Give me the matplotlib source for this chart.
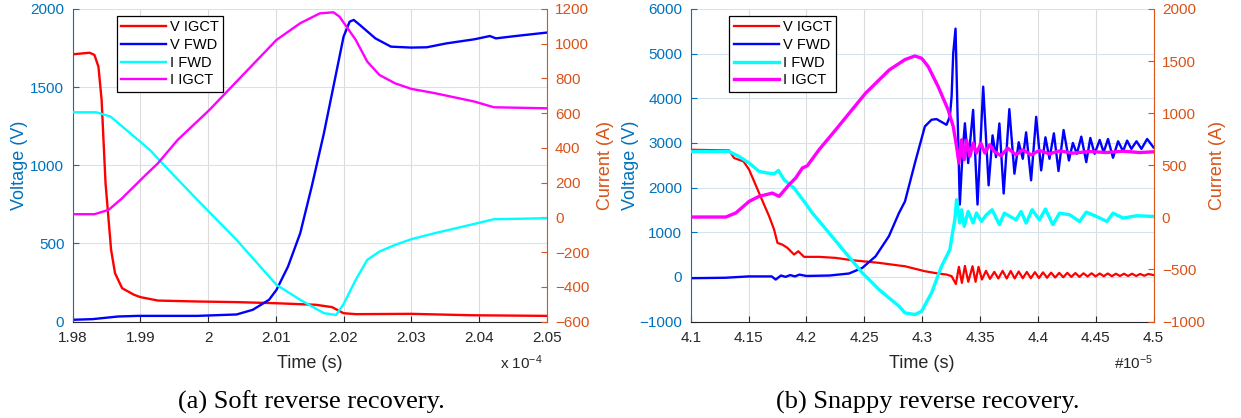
import matplotlib
matplotlib.use("Agg")
import matplotlib.pyplot as plt
from matplotlib.ticker import FuncFormatter

plt.rcParams['font.family'] = ['Liberation Sans', 'DejaVu Sans']
plt.rcParams['mathtext.fontset'] = 'custom'
plt.rcParams['mathtext.rm'] = 'Liberation Sans'
plt.rcParams['mathtext.it'] = 'Liberation Sans:italic'

# ---- (a) soft recovery, time in units of 1e-4 s ----
t_vigct_a = [1.980, 1.9825, 1.98321, 1.9838, 1.98427, 1.9845, 1.98485, 1.98526, 1.98567, 1.98625,
             1.9873, 1.98906, 1.990, 1.9926, 1.9984, 2.0042, 2.010, 2.0159, 2.0183, 2.020,
             2.0218, 2.030, 2.0389, 2.050]
v_igct_a = [1710, 1720, 1706, 1631, 1418, 1205, 885, 672, 459, 309,
            213, 171, 156, 134, 128, 124, 117, 107, 92, 53,
            47, 49, 40, 36]

t_vfwd_a = [1.980, 1.9829, 1.9867, 1.9896, 1.9984, 2.0042, 2.0066, 2.009, 2.0101, 2.0118,
            2.0136, 2.0153, 2.0171, 2.0189, 2.020, 2.0209, 2.0215, 2.0224, 2.0247, 2.027,
            2.030, 2.0323, 2.0352, 2.0393, 2.0416, 2.0425, 2.0454, 2.050]
v_fwd_a = [11, 15, 32, 36, 36, 45, 75, 139, 203, 352,
           565, 864, 1205, 1588, 1823, 1919, 1930, 1898, 1812, 1759,
           1753, 1755, 1780, 1806, 1827, 1812, 1827, 1849]

t_ifwd_a = [1.980, 1.9835, 1.9856, 1.9879, 1.9914, 1.9937, 1.9984, 2.0042, 2.0101, 2.0136,
            2.0171, 2.0189, 2.020, 2.0218, 2.0235, 2.0253, 2.0276, 2.030, 2.0335, 2.0393,
            2.0422, 2.050]
i_fwd_a = [605, 605, 580, 504, 388, 292, 101, -130, -389, -475,
           -552, -562, -500, -360, -245, -197, -159, -126, -91, -38,
           -11, -5]

t_iigct_a = [1.980, 1.9832, 1.9853, 1.9873, 1.9908, 1.9926, 1.9955, 2.0002, 2.0042, 2.0101,
             2.0136, 2.0165, 2.0185, 2.0194, 2.0218, 2.0235, 2.0253, 2.0276, 2.030, 2.0335,
             2.0393, 2.0422, 2.050]
i_igct_a = [18, 18, 43, 110, 245, 312, 446, 619, 782, 1022,
            1118, 1175, 1181, 1156, 1022, 897, 820, 772, 740, 715,
            667, 634, 628]

# ---- (b) snappy recovery, time in units of 1e-5 s ----
t_vigct_b = [4.100, 4.1332, 4.1375, 4.1457, 4.1505, 4.1591, 4.1678, 4.1721, 4.175, 4.1792,
             4.1836, 4.1893, 4.193, 4.198, 4.211, 4.2253, 4.2397, 4.2627, 4.280, 4.2852,
             4.3024, 4.3139, 4.3211, 4.3255, 4.3292, 4.3318, 4.3344, 4.337, 4.3399, 4.3436,
             4.3462, 4.3488, 4.3517, 4.3552, 4.3587, 4.3624, 4.3659, 4.3696, 4.3731, 4.3766,
             4.380, 4.3835, 4.387, 4.3905, 4.394, 4.3975, 4.401, 4.4045, 4.408, 4.4115,
             4.415, 4.4185, 4.422, 4.4255, 4.429, 4.4325, 4.436, 4.4395, 4.443, 4.4465,
             4.450, 4.4535, 4.457, 4.4605, 4.464, 4.4675, 4.471, 4.4745, 4.478, 4.4815,
             4.485, 4.4885, 4.492, 4.4955, 4.500]
v_igct_b = [2847, 2832, 2661, 2586, 2400, 1879, 1356, 1058, 761, 722,
            649, 500, 573, 448, 448, 425, 372, 314, 254, 238,
            126, 75, 52, 15, -160, 225, -135, 245, -110, 238,
            -110, 225, -60, 135, -45, 112, -37, 134, -37, 130,
            -35, 120, -30, 110, -30, 105, -25, 100, -20, 95,
            -15, 90, -10, 90, 0, 85, 0, 80, 10, 80,
            10, 75, 15, 75, 15, 70, 20, 70, 20, 70,
            20, 65, 25, 65, 40]

t_vfwd_b = [4.100, 4.130, 4.150, 4.170, 4.1735, 4.178, 4.182, 4.186, 4.190, 4.194,
            4.200, 4.220, 4.2368, 4.2483, 4.2598, 4.2713, 4.280, 4.2852, 4.2938, 4.3024,
            4.3082, 4.3125, 4.3211, 4.324, 4.3255, 4.3269, 4.3289, 4.3305, 4.3326, 4.335,
            4.337, 4.3398, 4.3441, 4.3479, 4.3528, 4.3575, 4.3609, 4.3639, 4.3668, 4.3705,
            4.3754, 4.3798, 4.3835, 4.387, 4.3899, 4.3942, 4.3986, 4.4029, 4.4066, 4.4101,
            4.4139, 4.4179, 4.4223, 4.4269, 4.4303, 4.4338, 4.4376, 4.4419, 4.4454, 4.4491,
            4.4535, 4.4569, 4.4607, 4.465, 4.4694, 4.4737, 4.4772, 4.4809, 4.4853, 4.4896,
            4.4945, 4.500]
v_fwd_b = [-30, -20, 10, 10, -60, 30, 0, 40, 10, 50,
           20, 30, 75, 200, 460, 910, 1430, 1690, 2550, 3370,
           3520, 3534, 3406, 3592, 4039, 5009, 5560, 3800, 1620, 2800,
           3440, 2550, 3740, 1620, 4260, 2050, 3170, 2682, 3437, 1867,
           3756, 2311, 3015, 2645, 3237, 2163, 3585, 2385, 3126, 2645,
           3215, 2370, 3289, 2607, 3000, 2756, 3141, 2570, 3111, 2756,
           3067, 2793, 3089, 2667, 3037, 2815, 3052, 2867, 3037, 2867,
           3089, 2900]

t_ifwd_b = [4.100, 4.1332, 4.1419, 4.1505, 4.1591, 4.1663, 4.1721, 4.1758, 4.1807, 4.1893,
            4.198, 4.2051, 4.2196, 4.234, 4.2483, 4.2627, 4.280, 4.2852, 4.2938, 4.2996,
            4.3082, 4.3168, 4.324, 4.3263, 4.3283, 4.3298, 4.3326, 4.3341, 4.3364, 4.3398,
            4.3441, 4.347, 4.3513, 4.3556, 4.3605, 4.3668, 4.3711, 4.3812, 4.3856, 4.3899,
            4.3951, 4.4014, 4.4066, 4.413, 4.4188, 4.4275, 4.4361, 4.4419, 4.4506, 4.4598,
            4.465, 4.4737, 4.4853, 4.500]
i_fwd_b = [632, 632, 584, 521, 441, 425, 417, 450, 361, 281,
           153, 42, -150, -342, -533, -693, -853, -917, -933, -901,
           -725, -470, -310, -150, -22, 169, -54, 73, -87, 57,
           -54, 42, -39, 25, 73, -70, 40, -24, 56, -55,
           73, -24, 80, -70, 40, 25, -40, 50, 9, -40,
           40, -7, 15, 9]

t_iigct_b = [4.100, 4.1303, 4.139, 4.1505, 4.1591, 4.1706, 4.1764, 4.185, 4.1907, 4.1965,
             4.2008, 4.2109, 4.2238, 4.2511, 4.2716, 4.2853, 4.2938, 4.2996, 4.3053, 4.3139,
             4.3225, 4.3269, 4.3298, 4.3318, 4.3341, 4.3364, 4.3384, 4.3413, 4.3441, 4.347,
             4.3508, 4.3542, 4.3585, 4.3623, 4.3682, 4.374, 4.3812, 4.387, 4.3942, 4.4014,
             4.4101, 4.4188, 4.4303, 4.4448, 4.4592, 4.4737, 4.4881, 4.500]
i_igct_b = [3, 3, 42, 153, 201, 233, 201, 313, 377, 473,
            495, 649, 820, 1191, 1415, 1515, 1549, 1527, 1447, 1255,
            1032, 872, 680, 521, 744, 553, 741, 585, 712, 617,
            712, 617, 697, 633, 591, 664, 600, 648, 600, 642,
            610, 638, 616, 632, 622, 635, 622, 629]

labels = ['V IGCT', 'V FWD', 'I FWD', 'I IGCT']

blue_ax = '#0072BD'
orange_ax = '#D95319'
dark = '#262626'

fmt = FuncFormatter(lambda v, p: '%g' % round(v, 4))

fig = plt.figure(figsize=(12.41, 4.18), dpi=100)
W, H = 1241.0, 418.0


def style(ax, ax2):
    ax.set_axisbelow(True)
    # x grid gray, y grid takes the light blue of the left axis (matlab yyaxis look)
    ax.xaxis.grid(True, color='#dcdcdc', linewidth=0.8)
    ax.yaxis.grid(True, color='#d4e3f0', linewidth=0.8)
    for a in (ax, ax2):
        a.spines['top'].set_visible(False)
    ax.spines['right'].set_visible(False)
    ax2.spines['left'].set_visible(False)
    ax2.spines['bottom'].set_visible(False)
    ax.spines['left'].set_color(blue_ax)
    ax.spines['bottom'].set_color(dark)
    ax2.spines['right'].set_color(orange_ax)
    ax.tick_params(axis='y', colors=blue_ax, direction='in', labelsize=11, length=4, pad=6)
    ax.tick_params(axis='x', colors=dark, direction='in', labelsize=11, length=4, pad=7)
    ax2.tick_params(axis='y', colors=orange_ax, direction='in', labelsize=11, length=4, pad=6)
    ax.xaxis.set_major_formatter(fmt)


# panel (a)
ax1 = fig.add_axes([72.7 / W, 1 - 321.5 / H, 474 / W, 312.5 / H])
ax2 = ax1.twinx()
h1, = ax1.plot(t_vigct_a, v_igct_a, color='#ff0000', lw=1.7)
h2, = ax1.plot(t_vfwd_a, v_fwd_a, color='#0000ff', lw=1.7)
h3, = ax2.plot(t_ifwd_a, i_fwd_a, color='#00ffff', lw=1.7)
h4, = ax2.plot(t_iigct_a, i_igct_a, color='#ff00ff', lw=1.7)
ax1.set_xlim(1.98, 2.05)
ax1.set_ylim(0, 2000)
ax2.set_ylim(-600, 1200)
ax1.set_xticks([1.98, 1.99, 2.0, 2.01, 2.02, 2.03, 2.04, 2.05])
ax1.set_yticks([0, 500, 1000, 1500, 2000])
ax2.set_yticks(range(-600, 1201, 200))
style(ax1, ax2)
ax1.set_xlabel('Time (s)', fontsize=13, color=dark, va='center')
ax1.xaxis.set_label_coords(0.5, -0.133)
ax1.set_ylabel('Voltage (V)', fontsize=13, color=blue_ax, va='center')
ax1.yaxis.set_label_coords(-0.113, 0.5)
ax2.set_ylabel('Current (A)', fontsize=13, color=orange_ax, va='center')
ax2.yaxis.set_label_coords(1.125, 0.5)
leg = ax2.legend([h1, h2, h3, h4], labels, loc='upper left', bbox_to_anchor=(0.0926, 0.9776),
                 borderaxespad=0, fancybox=False, framealpha=1, edgecolor='black', fontsize=10.5,
                 handlelength=3.1, handletextpad=0.25, labelspacing=0.25, borderpad=0.3)
leg.get_frame().set_linewidth(0.9)
fig.text(543 / W, 1 - 363 / H, 'x 10$^{-4}$', fontsize=11, color=dark, ha='right', va='center')

# panel (b)
ax3 = fig.add_axes([690.7 / W, 1 - 321.5 / H, 462.8 / W, 312.5 / H])
ax4 = ax3.twinx()
g1, = ax3.plot(t_vigct_b, v_igct_b, color='#ff0000', lw=1.6)
g2, = ax3.plot(t_vfwd_b, v_fwd_b, color='#0000ff', lw=1.7)
g3, = ax4.plot(t_ifwd_b, i_fwd_b, color='#00ffff', lw=2.4)
g4, = ax4.plot(t_iigct_b, i_igct_b, color='#ff00ff', lw=2.4)
ax3.set_xlim(4.1, 4.5)
ax3.set_ylim(-1000, 6000)
ax4.set_ylim(-1000, 2000)
ax3.set_xticks([4.1, 4.15, 4.2, 4.25, 4.3, 4.35, 4.4, 4.45, 4.5])
ax3.set_yticks(range(-1000, 6001, 1000))
ax4.set_yticks(range(-1000, 2001, 500))
style(ax3, ax4)
ax3.set_xlabel('Time (s)', fontsize=13, color=dark, va='center')
ax3.xaxis.set_label_coords(0.5, -0.133)
ax3.set_ylabel('Voltage (V)', fontsize=13, color=blue_ax, va='center')
ax3.yaxis.set_label_coords(-0.131, 0.5)
ax4.set_ylabel('Current (A)', fontsize=13, color=orange_ax, va='center')
ax4.yaxis.set_label_coords(1.139, 0.5)
leg = ax4.legend([g1, g2, g3, g4], labels, loc='upper left', bbox_to_anchor=(0.0834, 0.9776),
                 borderaxespad=0, fancybox=False, framealpha=1, edgecolor='black', fontsize=10.5,
                 handlelength=3.1, handletextpad=0.25, labelspacing=0.25, borderpad=0.3)
leg.get_frame().set_linewidth(0.9)
fig.text(1153 / W, 1 - 363 / H, '#10$^{-5}$', fontsize=11, color=dark, ha='right', va='center')

# captions
fig.text(311 / W, 1 - 402 / H, '(a) Soft reverse recovery.', fontsize=19,
         family='Liberation Serif', ha='center', va='center')
fig.text(928 / W, 1 - 402 / H, '(b) Snappy reverse recovery.', fontsize=19,
         family='Liberation Serif', ha='center', va='center')

fig.savefig('out.png', dpi=100)
